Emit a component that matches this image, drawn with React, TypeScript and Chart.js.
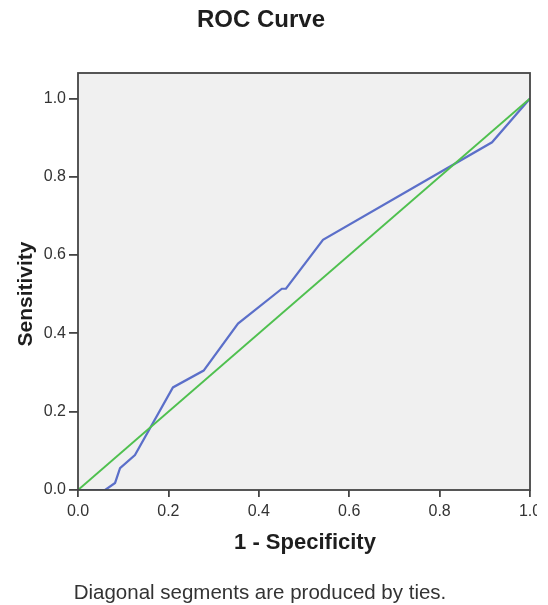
import React, { useEffect, useRef } from "react";
import { Chart, registerables } from "chart.js";

Chart.register(...registerables);

const rocX = [0, 0.06, 0.082, 0.093, 0.126, 0.21, 0.278, 0.354, 0.451, 0.46, 0.542, 0.916, 1.0];
const rocY = [0, 0, 0.018, 0.056, 0.089, 0.262, 0.305, 0.425, 0.514, 0.514, 0.639, 0.888, 1.0];
const refX = [0, 1];
const refY = [0, 1];
const tickValues = [0, 0.2, 0.4, 0.6, 0.8, 1.0];
const titleText = "ROC Curve";
const xTitle = "1 - Specificity";
const yTitle = "Sensitivity";
const footnote = "Diagonal segments are produced by ties.";

const FONT = "'Liberation Sans', Arial, sans-serif";

const framePlugin = {
  id: "frame",
  beforeDatasetsDraw(chart: any) {
    const { ctx, chartArea: a } = chart;
    ctx.save();
    ctx.fillStyle = "#f0f0f0";
    ctx.fillRect(a.left, a.top, a.right - a.left, a.bottom - a.top);
    ctx.restore();
  },
  afterDatasetsDraw(chart: any) {
    const { ctx, chartArea: a } = chart;
    ctx.save();
    ctx.strokeStyle = "#444444";
    ctx.lineWidth = 1.8;
    ctx.strokeRect(a.left, a.top, a.right - a.left, a.bottom - a.top);
    ctx.restore();
  },
  afterDraw(chart: any) {
    const { ctx } = chart;
    ctx.save();
    ctx.textAlign = "center";
    ctx.textBaseline = "middle";
    ctx.fillStyle = "#1e1e1e";
    ctx.font = `bold 24px ${FONT}`;
    ctx.fillText(titleText, 261, 20);
    ctx.font = `bold 22px ${FONT}`;
    ctx.fillText(xTitle, 305, 543);
    ctx.save();
    ctx.translate(26, 294);
    ctx.rotate(-Math.PI / 2);
    ctx.font = `bold 21px ${FONT}`;
    ctx.fillText(yTitle, 0, 0);
    ctx.restore();
    ctx.fillStyle = "#333333";
    ctx.font = `20.5px ${FONT}`;
    ctx.fillText(footnote, 260, 593);
    ctx.restore();
  },
};

export default function App() {
  const ref = useRef<HTMLCanvasElement | null>(null);
  useEffect(() => {
    if (!ref.current) return;
    const chart = new Chart(ref.current, {
      type: "scatter",
      data: {
        datasets: [
          {
            data: refX.map((x, i) => ({ x, y: refY[i] })),
            showLine: true,
            borderColor: "#4fc04f",
            borderWidth: 2,
            pointRadius: 0,
            tension: 0,
          },
          {
            data: rocX.map((x, i) => ({ x, y: rocY[i] })),
            showLine: true,
            borderColor: "#5b6fc9",
            borderWidth: 2.2,
            pointRadius: 0,
            tension: 0,
          },
        ],
      },
      options: {
        responsive: false,
        animation: false,
        layout: { padding: { top: 73, right: 18, left: 0, bottom: 0 } },
        plugins: { legend: { display: false }, tooltip: { enabled: false }, title: { display: false } },
        scales: {
          x: {
            type: "linear",
            min: 0,
            max: 1,
            afterFit: (s: any) => {
              s.height = 115;
            },
            afterBuildTicks: (s: any) => {
              s.ticks = tickValues.map((v) => ({ value: v }));
            },
            border: { display: false },
            grid: { drawOnChartArea: false, drawTicks: true, tickLength: 7, color: "#444444", lineWidth: 1.8 },
            ticks: {
              padding: 5,
              color: "#333333",
              font: { family: FONT, size: 16 },
              callback: (v: any) => Number(v).toFixed(1),
            },
          },
          y: {
            type: "linear",
            min: 0,
            max: 1.065,
            afterFit: (s: any) => {
              s.width = 78;
            },
            afterBuildTicks: (s: any) => {
              s.ticks = tickValues.map((v) => ({ value: v }));
            },
            border: { display: false },
            grid: { drawOnChartArea: false, drawTicks: true, tickLength: 9, color: "#444444", lineWidth: 1.8 },
            ticks: {
              padding: 3,
              color: "#333333",
              font: { family: FONT, size: 16 },
              callback: (v: any) => Number(v).toFixed(1),
            },
          },
        },
      },
      plugins: [framePlugin],
    } as any);
    return () => chart.destroy();
  }, []);
  return (
    <div style={{ position: "absolute", left: 0, top: 0, width: 537, height: 605, overflow: "hidden", background: "#fff" }}>
      <canvas ref={ref} width={548} height={605} style={{ display: "block", width: 548, height: 605 }} />
    </div>
  );
}
